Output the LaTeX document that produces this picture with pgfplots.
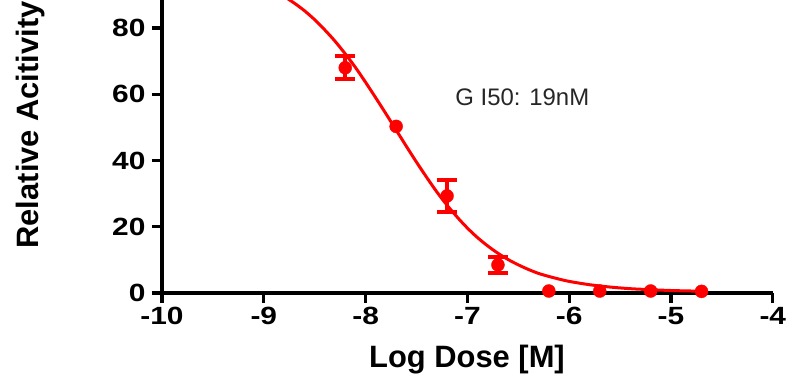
\documentclass[border=0pt]{standalone}
\usepackage{pgfplots}
\pgfplotsset{compat=1.18}
\usepackage{fontspec}
\setmainfont{Liberation Sans}
\newfontfamily\tickfont[FakeStretch=1.2]{Liberation Sans}
\definecolor{cred}{RGB}{255,0,0}
\begin{document}
\begin{tikzpicture}
\useasboundingbox (0,0) rectangle (786bp,385bp);
\clip (0,0) rectangle (786bp,385bp);
\begin{axis}[
  at={(162bp,92bp)}, anchor=south west,
  x=101.8bp, y=3.3125bp,
  xmin=-10, xmax=-4, ymin=0, ymax=88.5,
  axis lines=left,
  axis line style={-, line width=4bp, black},
  clip=false,
  xtick={-10,-9,-8,-7,-6,-5,-4},
  xticklabels={-10,-9,-8,-7,-6,-5,-4},
  ytick={0,20,40,60,80},
  yticklabels={0,20,40,60,80},
  tick align=outside,
  major tick length=10bp,
  tick style={black, line width=3.2bp},
  ticklabel style={font=\tickfont\fontsize{25}{25}\selectfont\bfseries},
  xticklabel style={yshift=-1bp},
  yticklabel style={xshift=-3bp},
]
\addplot[cred, line width=3bp, no marks, smooth] coordinates {
(-9.0,92.4) (-8.9,91.2) (-8.8,89.5) (-8.7,87.5) (-8.6,85.2) (-8.5,82.5) (-8.4,79.4) (-8.3,76.0)
(-8.2,72.2) (-8.1,68.1) (-8.0,63.6) (-7.9,58.9) (-7.8,54.1) (-7.7,49.2) (-7.6,44.3)
(-7.5,39.5) (-7.4,34.9) (-7.3,30.5) (-7.2,26.5) (-7.1,22.9) (-7.0,19.6) (-6.9,16.7)
(-6.8,14.2) (-6.7,12.0) (-6.6,10.1) (-6.5,8.5) (-6.4,7.1) (-6.3,5.9) (-6.2,5.0)
(-6.1,4.2) (-6.0,3.5) (-5.8,2.5) (-5.6,1.8) (-5.4,1.3) (-5.2,1.0) (-5.0,0.75)
(-4.8,0.6) (-4.7,0.55)
};
\addplot[cred, only marks, mark=*, mark size=6.5bp,
  error bars/.cd, y dir=both, y explicit,
  error bar style={line width=4bp, cred},
  error mark options={rotate=90, mark size=10bp, line width=4bp, cred}]
coordinates {
(-8.2,68.0) +- (0,3.5)
(-7.2,29.3) +- (0,4.8)
(-6.7,8.5) +- (0,2.5)
};
\addplot[cred, only marks, mark=*, mark size=6.5bp] coordinates {
(-7.7,50.3) (-6.2,0.6) (-5.7,0.6) (-5.2,0.6) (-4.7,0.5)
};
\node[anchor=west, font=\fontsize{24}{24}\selectfont, text=black!85, inner sep=0pt]
  at (axis cs:-7.12,59) {G I50: 19nM};
\end{axis}
\node[font=\fontsize{31}{31}\selectfont\bfseries] at (467bp,25bp) {Log Dose [M]};
\node[rotate=90, font=\fontsize{31}{31}\selectfont\bfseries, anchor=west] at (31bp,133bp) {Relative Acitivity};
\end{tikzpicture}
\end{document}
